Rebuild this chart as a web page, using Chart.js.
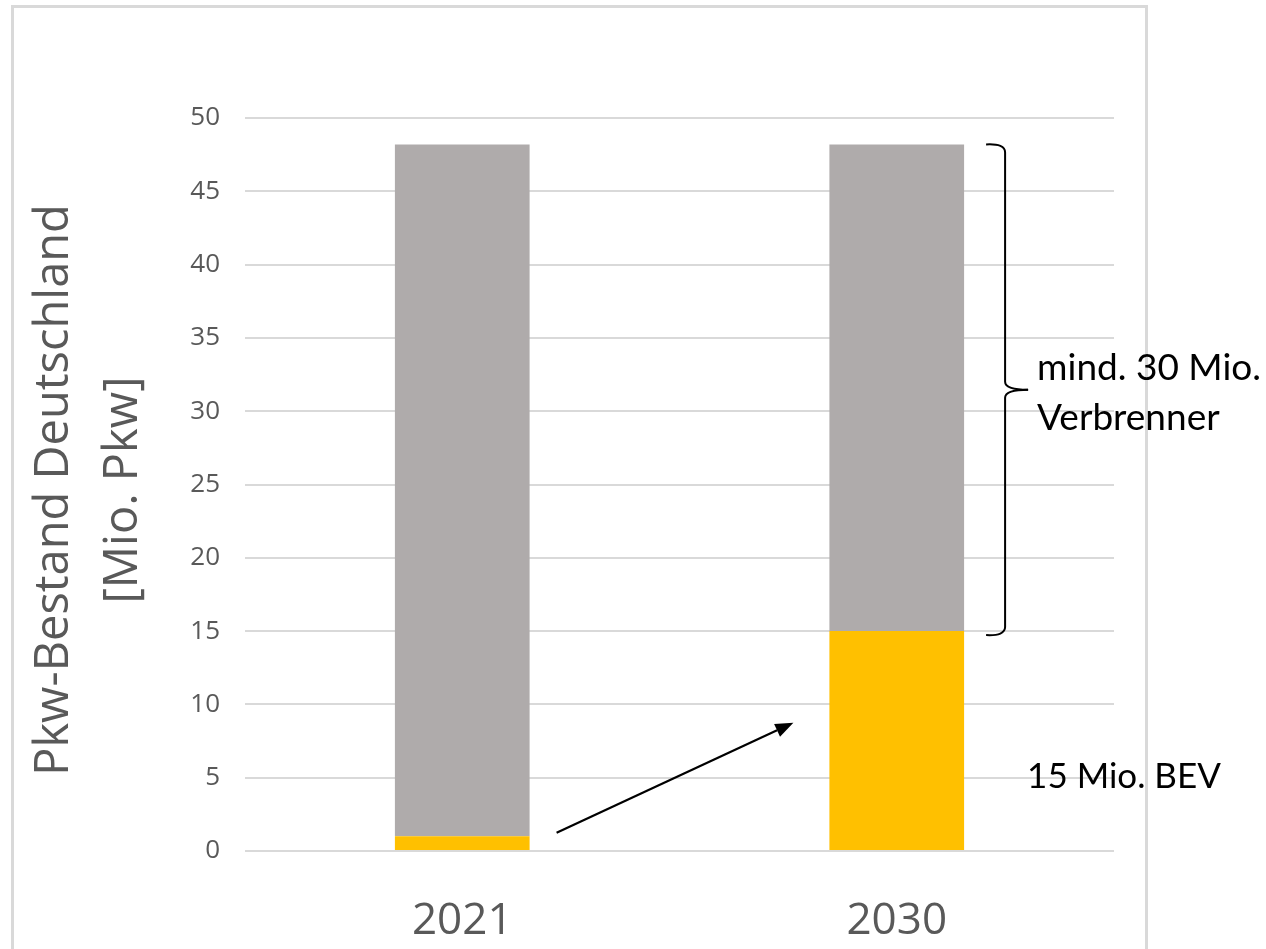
<!DOCTYPE html>
<html>
<head>
<meta charset="utf-8">
<script src="https://cdn.jsdelivr.net/npm/chart.js@4/dist/chart.umd.min.js"></script>
<style>
  html, body { margin: 0; padding: 0; background: #fff; overflow: hidden; }
  #frame { position: absolute; left: 11px; top: 5px; width: 1131px; height: 1100px; border: 3px solid #d9d9d9; box-sizing: content-box; }
  #wrap { position: absolute; left: 0; top: 0; width: 1266px; height: 949px; }
</style>
</head>
<body>
<div id="frame"></div>
<div id="wrap"><canvas id="c" width="1266" height="949"></canvas></div>
<script>
const categories = ["2021", "2030"];
const bevValues = [1.0, 15.0];          // Mio. BEV (yellow)
const verbrennerValues = [47.2, 33.2];  // Mio. Verbrenner (gray)
const yTicks = [0, 5, 10, 15, 20, 25, 30, 35, 40, 45, 50];
const yTitleLines = ["Pkw-Bestand Deutschland", "[Mio. Pkw]"];
const braceLabel = ["mind. 30 Mio.", "Verbrenner"];
const bevLabel = "15 Mio. BEV";

const annotations = {
  id: 'annotations',
  afterDraw(chart) {
    const ctx = chart.ctx;
    const x = chart.scales.x, y = chart.scales.y;
    // Y axis title (two rotated lines)
    ctx.save();
    ctx.fillStyle = '#595959';
    ctx.font = '47px "Open Sans"';
    ctx.textAlign = 'center';
    ctx.textBaseline = 'middle';
    const cy = 490;
    [[55, yTitleLines[0]], [124, yTitleLines[1]]].forEach(([lx, t]) => {
      ctx.save();
      ctx.translate(lx, cy);
      ctx.rotate(-Math.PI / 2);
      ctx.fillText(t, 0, 0);
      ctx.restore();
    });
    ctx.restore();

    const meta = chart.getDatasetMeta(1);
    const meta0 = chart.getDatasetMeta(0);
    const bar2030 = meta.data[1];
    const bar2021 = meta0.data[0];
    const half = bar2030.width / 2;
    const right2030 = bar2030.x + half;
    const left2030 = bar2030.x - half;
    const right2021 = bar2021.x + bar2021.width / 2;

    // Arrow
    ctx.save();
    ctx.strokeStyle = '#000';
    ctx.fillStyle = '#000';
    ctx.lineWidth = 2.2;
    const x1 = right2021 + 27, y1 = y.getPixelForValue(1.25);
    const x2 = left2030 - 36, y2 = y.getPixelForValue(8.75);
    const ang = Math.atan2(y2 - y1, x2 - x1);
    const hl = 18, hw = 7;
    const bx = x2 - hl * Math.cos(ang), by = y2 - hl * Math.sin(ang);
    ctx.beginPath(); ctx.moveTo(x1, y1); ctx.lineTo(bx, by); ctx.stroke();
    ctx.beginPath();
    ctx.moveTo(x2, y2);
    ctx.lineTo(bx + hw * Math.sin(ang), by - hw * Math.cos(ang));
    ctx.lineTo(bx - hw * Math.sin(ang), by + hw * Math.cos(ang));
    ctx.closePath(); ctx.fill();
    ctx.restore();

    // Brace
    const total = bevValues[1] + verbrennerValues[1];
    const yt = y.getPixelForValue(total);
    const yb = y.getPixelForValue(bevValues[1]) + 4;
    const ym = (yt + yb) / 2;
    const xv = right2030 + 41, xl = right2030 + 22, xt = right2030 + 64;
    ctx.save();
    ctx.strokeStyle = '#000';
    ctx.lineWidth = 2;
    ctx.beginPath();
    ctx.moveTo(xl, yt);
    ctx.quadraticCurveTo(xv, yt - 1, xv, yt + 8);
    ctx.lineTo(xv, ym - 8);
    ctx.quadraticCurveTo(xv, ym, xt, ym);
    ctx.stroke();
    ctx.beginPath();
    ctx.moveTo(xt, ym);
    ctx.quadraticCurveTo(xv, ym, xv, ym + 8);
    ctx.lineTo(xv, yb - 8);
    ctx.quadraticCurveTo(xv, yb + 1, xl, yb);
    ctx.stroke();
    ctx.restore();

    // Texts
    ctx.save();
    ctx.fillStyle = '#000';
    ctx.textAlign = 'left';
    ctx.textBaseline = 'alphabetic';
    ctx.font = '37px Lato';
    ctx.fillText(braceLabel[0], right2030 + 73, 380);
    ctx.fillText(braceLabel[1], right2030 + 73, 430);
    ctx.font = '35px Lato';
    ctx.fillText(bevLabel, right2030 + 63, 788);
    ctx.restore();
  }
};

new Chart(document.getElementById('c'), {
  type: 'bar',
  data: {
    labels: categories,
    datasets: [
      { label: 'BEV', data: bevValues, backgroundColor: '#FFC000', categoryPercentage: 1, barPercentage: 0.31 },
      { label: 'Verbrenner', data: verbrennerValues, backgroundColor: '#AFABAB', categoryPercentage: 1, barPercentage: 0.31 }
    ]
  },
  options: {
    responsive: false,
    animation: false,
    layout: { padding: { top: 118, right: 152, left: 0, bottom: 0 } },
    plugins: { legend: { display: false }, tooltip: { enabled: false } },
    scales: {
      x: {
        stacked: true,
        grid: { display: false, drawTicks: false },
        border: { display: false },
        ticks: { color: '#595959', font: { family: '"Open Sans"', size: 44 }, padding: 44 },
        afterFit: s => { s.height = 98; }
      },
      y: {
        stacked: true,
        min: 0, max: 50,
        afterBuildTicks: s => { s.ticks = yTicks.map(v => ({ value: v })); },
        grid: { color: '#d9d9d9', lineWidth: 2, drawTicks: false },
        border: { display: false },
        ticks: { color: '#595959', font: { family: '"Open Sans"', size: 26 }, padding: 25 },
        afterFit: s => { s.width = 245; }
      }
    }
  },
  plugins: [annotations]
});
</script>
</body>
</html>
